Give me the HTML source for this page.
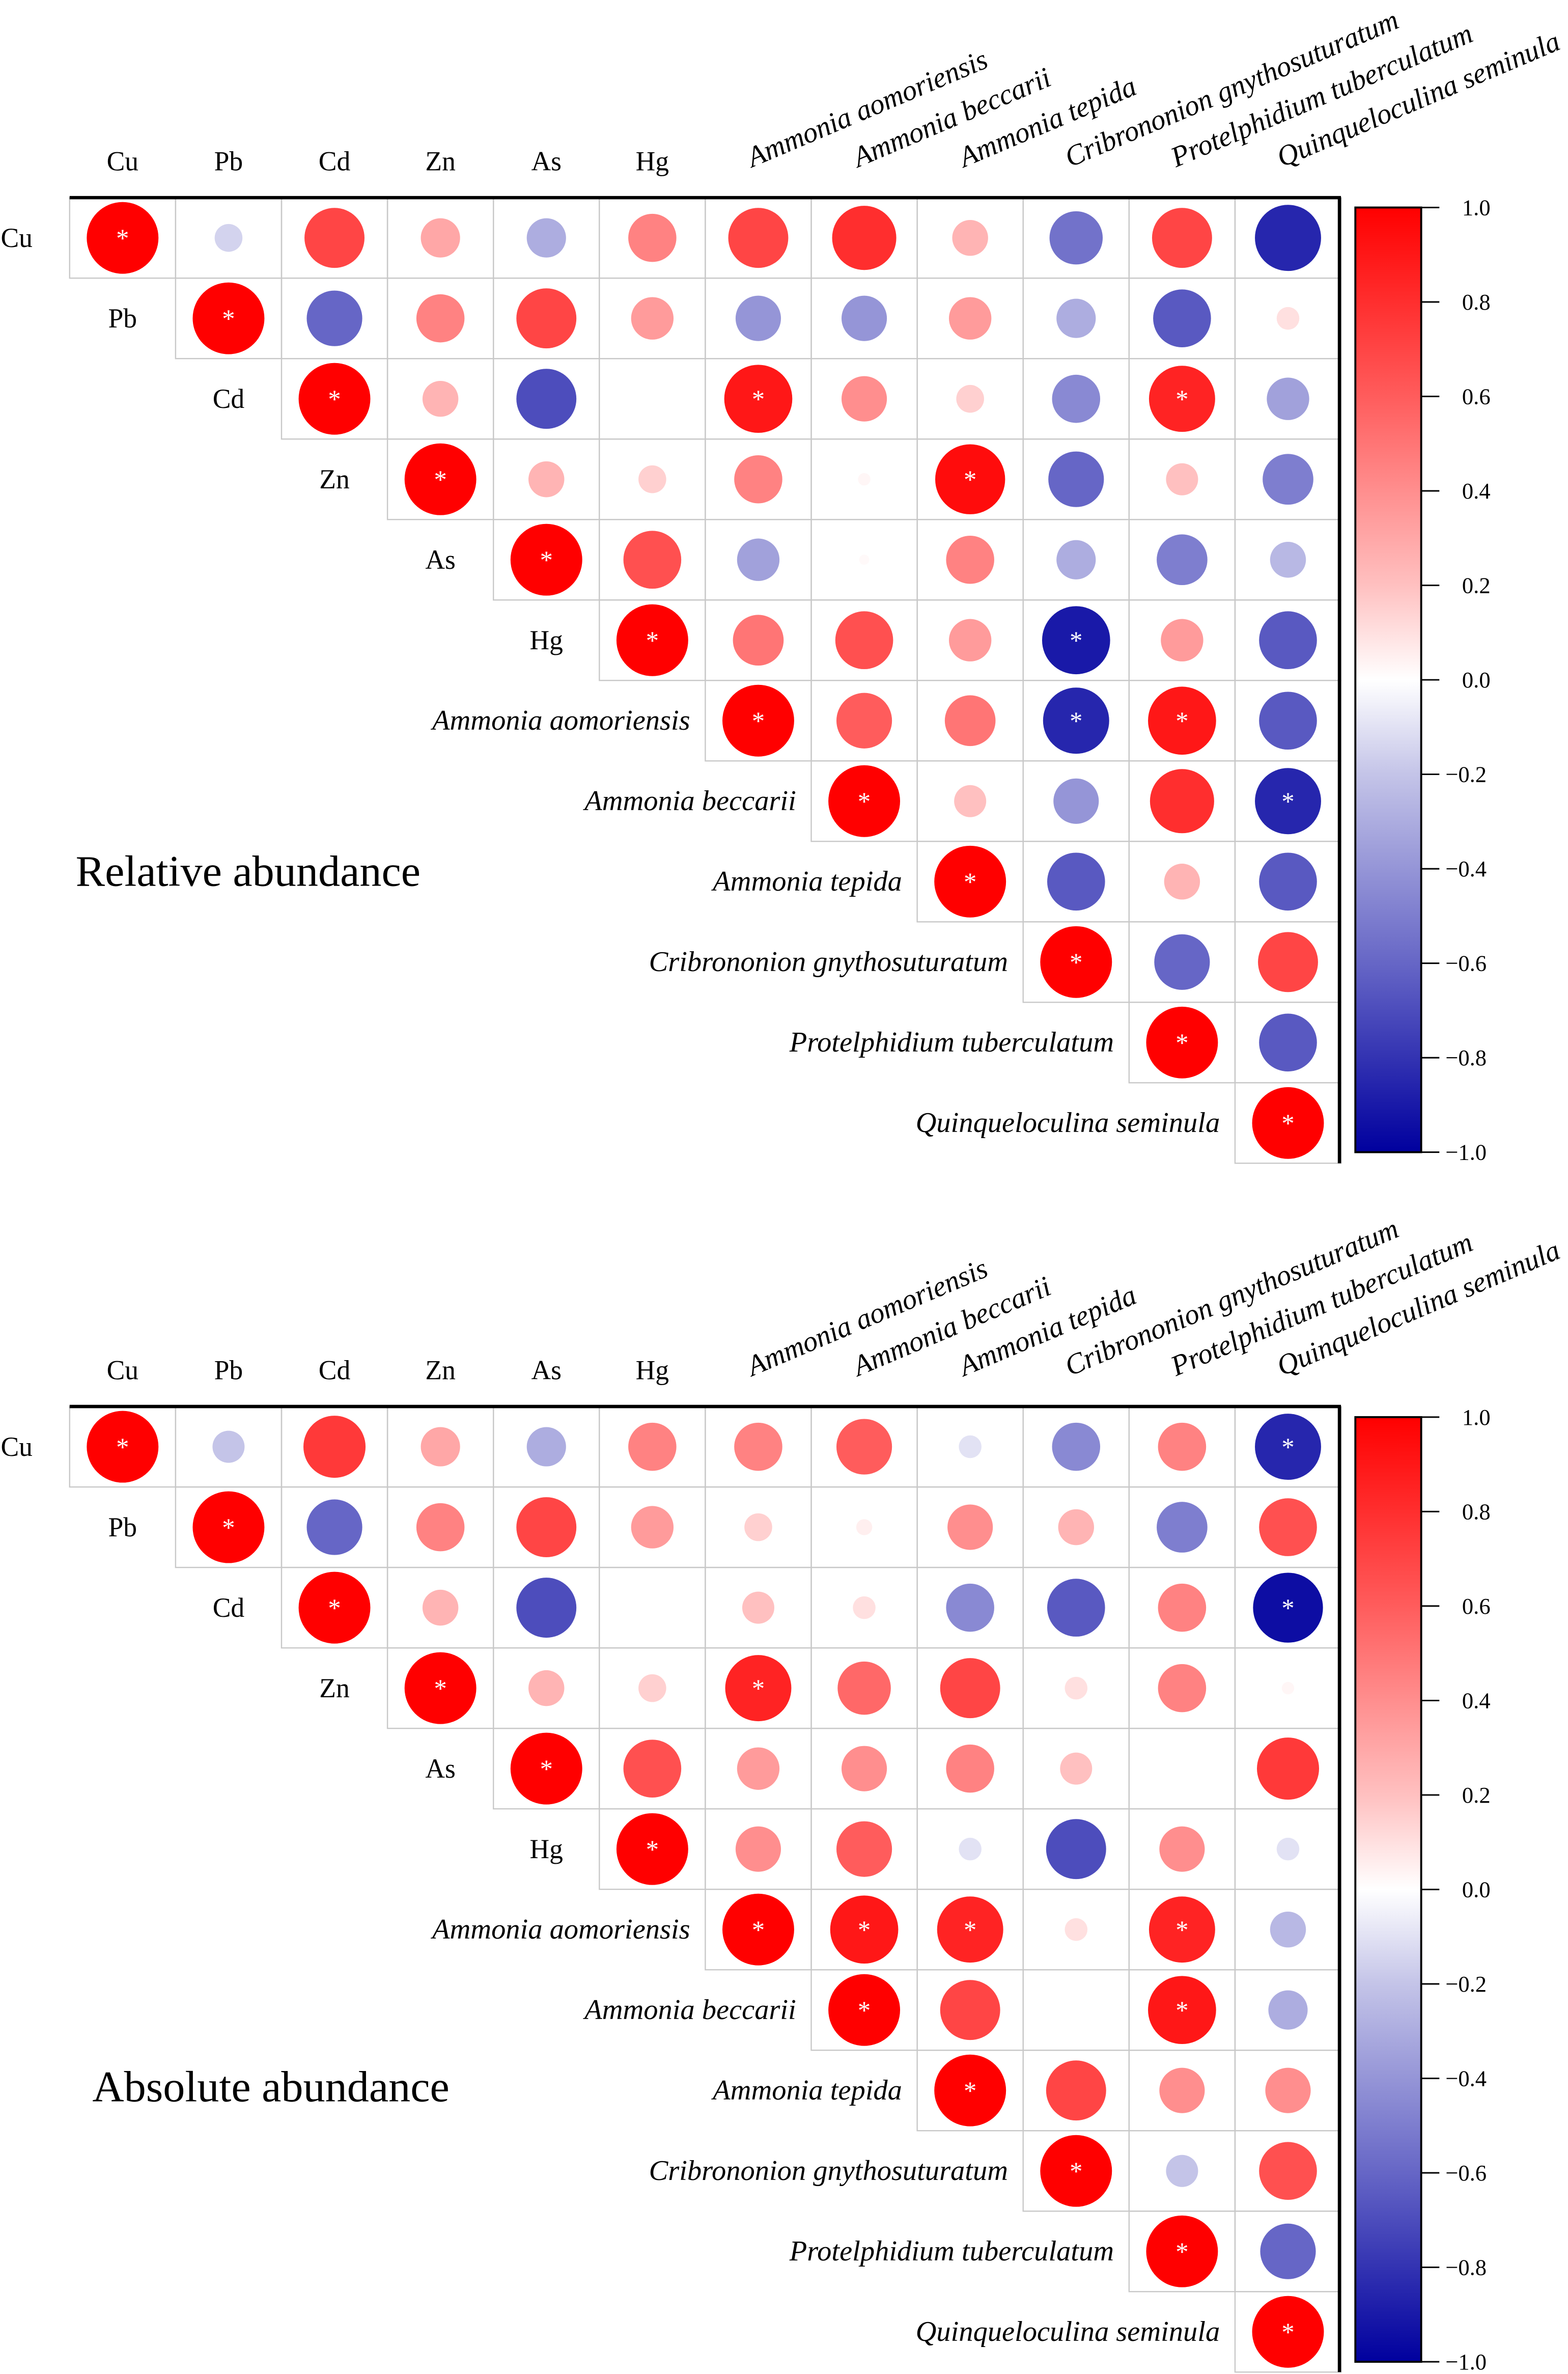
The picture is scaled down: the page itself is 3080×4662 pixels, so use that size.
<!DOCTYPE html>
<html><head><meta charset="utf-8"><style>
html,body{margin:0;padding:0;background:#fff;}
svg{display:block;}
svg text{font-family:"Liberation Serif","Times New Roman",serif;}
</style></head><body>
<svg id="chart" xmlns="http://www.w3.org/2000/svg" width="3080" height="4662" viewBox="0 0 1036 1568">
<defs>
<linearGradient id="cbar" x1="0" y1="0" x2="0" y2="1">
<stop offset="0" stop-color="#ff0000"/>
<stop offset="0.2" stop-color="#ff5c5c"/>
<stop offset="0.4" stop-color="#ffc0c0"/>
<stop offset="0.5" stop-color="#ffffff"/>
<stop offset="0.6" stop-color="#c4c4e8"/>
<stop offset="0.8" stop-color="#6666c6"/>
<stop offset="1" stop-color="#00009e"/>
</linearGradient>
</defs>
</svg>
<script>
const labels = ["Cu","Pb","Cd","Zn","As","Hg","Ammonia aomoriensis","Ammonia beccarii","Ammonia tepida","Cribrononion gnythosuturatum","Protelphidium tuberculatum","Quinqueloculina seminula"];
const ticks = ["1.0","0.8","0.6","0.4","0.2","0.0","\u22120.2","\u22120.4","\u22120.6","\u22120.8","\u22121.0"];
const relValues = [
[1,-0.15,0.7,0.3,-0.3,0.45,0.7,0.8,0.25,-0.55,0.7,-0.85],
[1,-0.6,0.45,0.7,0.35,-0.4,-0.4,0.35,-0.3,-0.65,0.1],
[1,0.25,-0.7,0,0.9,0.4,0.15,-0.45,0.85,-0.35],
[1,0.25,0.15,0.45,0.03,0.95,-0.6,0.2,-0.5],
[1,0.65,-0.35,0.02,0.45,-0.3,-0.5,-0.25],
[1,0.5,0.65,0.35,-0.9,0.35,-0.65],
[1,0.6,0.5,-0.85,0.9,-0.65],
[1,0.2,-0.4,0.8,-0.85],
[1,-0.65,0.25,-0.65],
[1,-0.6,0.7],
[1,-0.65],
[1]];
const relSig = [[0],[1],[2,6,10],[3,8],[4],[5,9],[6,9,10],[7,11],[8],[9],[10],[11]];
const absValues = [
[1,-0.2,0.75,0.3,-0.3,0.45,0.45,0.6,-0.1,-0.45,0.45,-0.85],
[1,-0.6,0.45,0.7,0.35,0.15,0.05,0.4,0.25,-0.5,0.65],
[1,0.25,-0.7,0,0.2,0.1,-0.45,-0.65,0.45,-0.95],
[1,0.25,0.15,0.85,0.55,0.7,0.1,0.45,0.03],
[1,0.65,0.35,0.4,0.45,0.2,0,0.75],
[1,0.4,0.6,-0.1,-0.7,0.4,-0.1],
[1,0.9,0.85,0.1,0.85,-0.25],
[1,0.7,0,0.9,-0.3],
[1,0.7,0.4,0.4],
[1,-0.2,0.65],
[1,-0.6],
[1]];
const absSig = [[0,11],[1],[2,11],[3,6],[4],[5],[6,7,8,10],[7,10],[8],[9],[10],[11]];

const NS="http://www.w3.org/2000/svg";
const svg=document.getElementById('chart');
function mk(tag,attrs,parent){const e=document.createElementNS(NS,tag);for(const k in attrs)e.setAttribute(k,attrs[k]);(parent||svg).appendChild(e);return e;}
const X0=46, CW=70, RMAX=23.7;
function lerp(a,b,t){return a+(b-a)*t;}
const stops=[[-1,[0,0,158]],[-0.6,[102,102,198]],[-0.2,[196,196,232]],[0,[255,255,255]],[0.2,[255,192,192]],[0.6,[255,92,92]],[1,[255,0,0]]];
function color(v){for(let i=0;i<stops.length-1;i++){const a=stops[i],b=stops[i+1];if(v>=a[0]&&v<=b[0]){const t=(v-a[0])/(b[0]-a[0]);return 'rgb('+a[1].map((c,k)=>Math.round(lerp(c,b[1][k],t))).join(',')+')';}}return '#fff';}
function xc(j){return X0+CW*j+CW/2;}

function panel(values,sig,top,ch,title,titleX,titleY,cbTop,cbBot){
  const g=mk('g',{});
  
  
  const n=labels.length;
  const yc=i=>top+ch*i+ch/2;
  for(let i=0;i<n;i++){for(let j=i;j<n;j++){
    const r=mk('rect',{x:X0+CW*j,y:top+ch*i,width:CW,height:ch,fill:'none',stroke:'#c8c8c8','stroke-width':0.8},g);
    
    
  }}
  for(let i=0;i<n;i++){const row=values[i];for(let k=0;k<row.length;k++){const j=i+k;const v=row[k];if(Math.abs(v)<0.005)continue;
    const c=mk('circle',{cx:xc(j),cy:yc(i),r:RMAX*Math.sqrt(Math.abs(v)),fill:color(v)},g);
    
    
    if(sig[i].indexOf(j)>=0){const s=mk('text',{x:xc(j),y:yc(i)+6,'text-anchor':'middle','font-size':17,fill:'#fff'},g);s.textContent='*';
      
      }
  }}
  const f1=mk('line',{x1:X0,y1:top,x2:X0+CW*n,y2:top,stroke:'#000','stroke-width':2.2},g);
  
  
  const f2=mk('line',{x1:X0+CW*n-1,y1:top,x2:X0+CW*n-1,y2:top+ch*n,stroke:'#000','stroke-width':2.2},g);
  
  
  for(let i=0;i<n;i++){
    const t=mk('text',{'font-size':i<6?18:19},g);
    if(i===0){t.setAttribute('x',11);t.setAttribute('text-anchor','middle');}
    else if(i<6){t.setAttribute('x',xc(i-1));t.setAttribute('text-anchor','middle');}
    else{t.setAttribute('x',X0+CW*i-10);t.setAttribute('text-anchor','end');t.setAttribute('font-style','italic');}
    t.setAttribute('y',yc(i)+6);
    t.textContent=labels[i];
    
    
  }
  for(let j=0;j<n;j++){
    const t=mk('text',{'font-size':j<6?18:19},g);
    if(j<6){t.setAttribute('x',xc(j));t.setAttribute('y',top-18);t.setAttribute('text-anchor','middle');}
    else{const x=xc(j)-4,y=top-20;t.setAttribute('x',x);t.setAttribute('y',y);t.setAttribute('font-style','italic');t.setAttribute('transform','rotate(-23 '+x+' '+y+')');}
    t.textContent=labels[j];
    
    
  }
  const tt=mk('text',{x:titleX,y:titleY,'font-size':29},g);
  tt.textContent=title;
  
  
  const cb=mk('rect',{x:895.5,y:cbTop,width:43.5,height:cbBot-cbTop,fill:'url(#cbar)',stroke:'#000','stroke-width':1.3},g);
  
  
  ticks.forEach((lab,k)=>{const y=cbTop+(cbBot-cbTop)*k/(ticks.length-1);
    const l=mk('line',{x1:939,y1:y,x2:951,y2:y,stroke:'#000','stroke-width':1},g);
    
    
    const t=mk('text',{x:lab.startsWith('\u2212')?955:966,y:y+5,'font-size':15},g);
    t.textContent=lab;
    
    
  });
}
panel(relValues,relSig,130.5,53.15,'Relative abundance',50,585,137,761);
panel(absValues,absSig,929,53.15,'Absolute abundance',61,1388,936,1560);
</script>
</body></html>
